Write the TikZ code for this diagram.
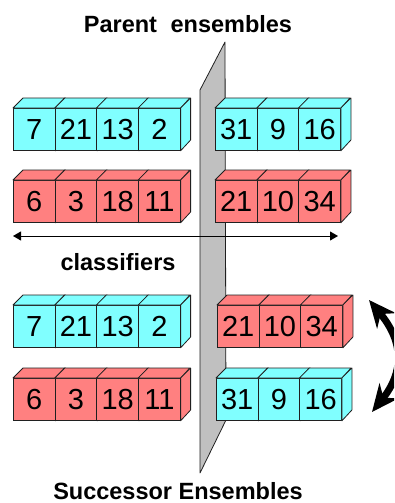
\documentclass[tikz,border=0pt]{standalone}
\usepackage{fontspec}
\setmainfont{Liberation Sans}
\usetikzlibrary{arrows.meta}

\definecolor{cubecyan}{HTML}{80FFFF}
\definecolor{cubered}{HTML}{FF8080}
\definecolor{planegray}{HTML}{C0C0C0}
\definecolor{edge}{HTML}{202020}

\tikzset{
  cell/.style={draw=edge, line width=0.8pt, minimum width=41.7pt, minimum height=42pt,
               inner sep=0pt, anchor=north west, font=\fontsize{29}{29}\selectfont},
  face/.style={draw=edge, line width=0.8pt, line join=round},
  caption/.style={font=\bfseries\fontsize{23.5}{23.5}\selectfont},
  plane/.style={draw=edge, line width=0.8pt, fill=planegray, line join=round},
}

% one row of cubes: #1 name prefix, #2 left x, #3 top y of the front faces,
% #4 fill colour, #5 comma list of the numbers
\newcommand\cuberow[5]{%
  \foreach \v [count=\i] in {#5} {
    \node[cell, fill=#4] (#1\i) at ({#2+(\i-1)*41.7}, #3) {\v};
    \draw[face, fill=#4] (#1\i.north west) -- ++(10,-10) -- ++(41.7,0)
      -- (#1\i.north east) -- cycle;
    \draw[face, fill=#4] (#1\i.north east) -- ++(10,-10) -- ++(0,42)
      -- (#1\i.south east) -- cycle;
  }%
}

\begin{document}
\begin{tikzpicture}[x=1pt, y=-1pt]
  \useasboundingbox (0,0) rectangle (394,503);

  % left-hand ensembles
  \cuberow{la}{13}{108}{cubecyan}{7,21,13,2}
  \cuberow{lb}{13}{180}{cubered}{6,3,18,11}
  \cuberow{lc}{13}{305}{cubecyan}{7,21,13,2}
  \cuberow{ld}{13}{378}{cubered}{6,3,18,11}

  % separating plane
  \draw[plane] (200,90) -- (225,42) -- (226,420) -- (200,473) -- cycle;

  % right-hand ensembles
  \cuberow{ra}{215}{108}{cubecyan}{31,9,16}
  \cuberow{rb}{215}{180}{cubered}{21,10,34}
  \cuberow{rc}{217}{305}{cubered}{21,10,34}
  \cuberow{rd}{216}{378}{cubecyan}{31,9,16}

  % classifier axis
  \coordinate (al) at (13,236);
  \coordinate (ar) at (338,236);
  \draw[line width=0.9pt, {Triangle[length=8pt,width=9pt]}-{Triangle[length=8pt,width=9pt]}] (al) -- (ar);
  \node[caption] (cls) at (118,262) {classifiers};

  % swap arrow
  \coordinate (sa) at (369,300);
  \coordinate (sb) at (372,412);
  \begin{scope}
    \clip (0,0) rectangle (394,503);
    \draw[line width=7pt, {Stealth[length=27pt,width=24pt]}-{Stealth[length=27pt,width=24pt]}]
      (sa) .. controls (404,342) and (404,372) .. (sb);
  \end{scope}

  % titles
  \node[caption] (top) at (188,24) {Parent\hspace{0.3em} ensembles};
  \node[caption] (bottom) at (178,491) {Successor Ensembles};
\end{tikzpicture}
\end{document}
